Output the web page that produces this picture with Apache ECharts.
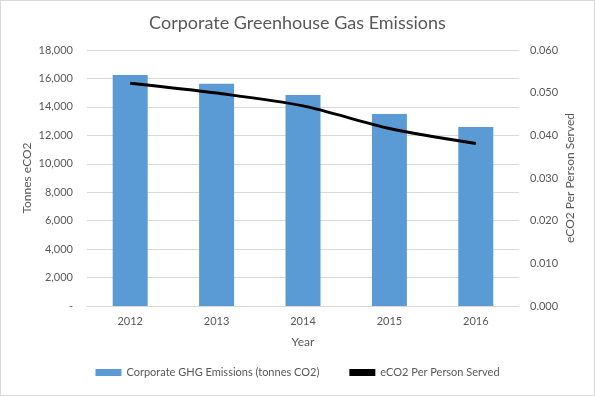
<!DOCTYPE html>
<html>
<head>
<meta charset="utf-8">
<script src="https://cdn.jsdelivr.net/npm/echarts@6/dist/echarts.min.js"></script>
<style>
  html, body { margin: 0; padding: 0; background: #fff; }
  #chart { width: 593px; height: 394px; border: 1px solid #d9d9d9; }
</style>
</head>
<body>
<div id="chart"></div>
<script>
  // data
  const years = ['2012', '2013', '2014', '2015', '2016'];
  const emissions = [16250, 15620, 14840, 13500, 12590];
  const perPerson = [0.0522, 0.0499, 0.0469, 0.0416, 0.0381];

  const txt = '#595959';
  const font = 'Lato, "Open Sans", sans-serif';

  const myChart = echarts.init(document.getElementById('chart'));
  myChart.setOption({
    animation: false,
    textStyle: { fontFamily: font },
    title: {
      text: 'Corporate Greenhouse Gas Emissions',
      left: 'center',
      top: 8,
      textStyle: { color: txt, fontSize: 18, fontWeight: 'normal', fontFamily: font }
    },
    grid: { left: 86, right: 75, top: 49, bottom: 89 },
    legend: {
      bottom: 12,
      itemWidth: 26,
      itemHeight: 7,
      itemGap: 30,
      textStyle: { color: txt, fontSize: 11, fontFamily: font },
      data: [
        { name: 'Corporate GHG Emissions (tonnes CO2)', icon: 'rect' },
        { name: 'eCO2 Per Person Served', icon: 'rect', itemStyle: { color: '#000' } }
      ]
    },
    xAxis: {
      type: 'category',
      data: years,
      name: 'Year',
      nameLocation: 'middle',
      nameGap: 30,
      nameTextStyle: { color: txt, fontSize: 12 },
      axisTick: { show: false },
      axisLine: { lineStyle: { color: '#d9d9d9' } },
      axisLabel: { color: txt, fontSize: 11, margin: 10 }
    },
    yAxis: [
      {
        type: 'value',
        min: 0, max: 18000, interval: 2000,
        name: 'Tonnes eCO2',
        nameLocation: 'middle',
        nameGap: 54,
        nameMoveOverlap: false,
        nameTextStyle: { color: txt, fontSize: 12 },
        axisLine: { show: false },
        axisTick: { show: false },
        splitLine: { lineStyle: { color: '#d9d9d9' } },
        axisLabel: {
          color: txt, fontSize: 11, margin: 14,
          formatter: v => v === 0 ? '-' : v.toLocaleString('en-US')
        }
      },
      {
        type: 'value',
        min: 0, max: 0.06, interval: 0.01,
        name: 'eCO2 Per Person Served',
        nameLocation: 'middle',
        nameGap: 45,
        nameRotate: 90,
        nameMoveOverlap: false,
        nameTextStyle: { color: txt, fontSize: 12 },
        axisLine: { show: false },
        axisTick: { show: false },
        splitLine: { show: false },
        axisLabel: { color: txt, fontSize: 11, margin: 11, formatter: v => v.toFixed(3) }
      }
    ],
    series: [
      {
        name: 'Corporate GHG Emissions (tonnes CO2)',
        type: 'bar',
        data: emissions,
        barWidth: 35,
        itemStyle: { color: '#5b9bd5' }
      },
      {
        name: 'eCO2 Per Person Served',
        type: 'line',
        yAxisIndex: 1,
        data: perPerson,
        smooth: 0.3,
        symbol: 'none',
        lineStyle: { color: '#000', width: 3 },
        itemStyle: { color: '#000' }
      }
    ]
  });
  window.addEventListener('resize', myChart.resize);
</script>
</body>
</html>
